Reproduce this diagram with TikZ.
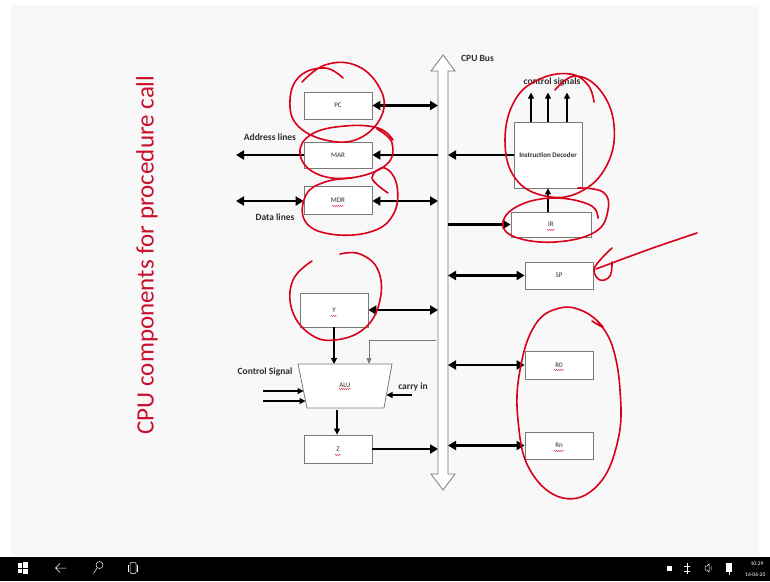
\documentclass[tikz,border=0pt]{standalone}
\usepackage{fontspec}
\setmainfont{Carlito}
\usetikzlibrary{arrows.meta,decorations.pathmorphing}
\definecolor{slidebg}{HTML}{F8F8F8}
\definecolor{boxgray}{HTML}{7A7A7A}
\definecolor{txtgray}{HTML}{2E2E2E}
\definecolor{titlered}{HTML}{C8102E}
\definecolor{penred}{HTML}{D9001B}
\tikzset{
  reg/.style={draw=boxgray, line width=0.8pt, fill=white, inner sep=0pt,
    font=\fontsize{7}{8}\selectfont, text=txtgray},
  lbl/.style={font=\bfseries\fontsize{9.5}{10}\selectfont, text=txtgray, inner sep=0pt},
  arr/.style={line width=2.2pt, -{Triangle[length=8pt,width=9pt]}},
  dbl/.style={line width=2.2pt, {Triangle[length=8pt,width=9pt]}-{Triangle[length=8pt,width=9pt]}},
  sarr/.style={line width=1.1pt, -{Triangle[length=6pt,width=6pt]}},
  thinarr/.style={line width=0.6pt, draw=boxgray, -{Triangle[length=6pt,width=5pt]}},
  pen/.style={draw=penred, line width=1.6pt, line cap=round, line join=round},
  squig/.style={draw=penred, line width=0.4pt, decorate, decoration={snake, amplitude=0.5pt, segment length=2pt}},
  tb/.style={draw=white, line width=0.8pt}
}
\begin{document}
\begin{tikzpicture}[x=1pt,y=-1pt]
\useasboundingbox (0,0) rectangle (770,581);
\fill[white] (0,0) rectangle (770,581);
\fill[slidebg] (11,5) rectangle (759,556);
\fill[black] (0,557) rectangle (770,581);

% title
\node[rotate=90, text=titlered, font=\fontsize{25}{27}\selectfont, inner sep=0pt] (title) at (147,255) {CPU components for procedure call};

% CPU bus
\draw[draw=boxgray, line width=0.8pt, fill=white]
  (438,71) -- (431,71) -- (443,55) -- (455,71) -- (448,71) -- (448,474) -- (455,474)
  -- (443,490) -- (431,474) -- (438,474) -- cycle;
\coordinate (busL) at (438,0);
\coordinate (busR) at (448,0);
\node[lbl, anchor=west] (buslbl) at (461,58) {CPU Bus};

% registers
\node[reg, minimum width=68pt, minimum height=27pt] (pc)  at (338,105.5) {PC};
\node[reg, minimum width=68pt, minimum height=26pt] (mar) at (338,155) {MAR};
\node[reg, minimum width=68pt, minimum height=28pt] (mdr) at (338,200) {MDR};
\node[reg, minimum width=68pt, minimum height=34pt] (yreg) at (334,310) {Y};
\node[reg, minimum width=68pt, minimum height=28pt] (z)  at (338,449) {Z};
\node[reg, minimum width=68pt, minimum height=66pt, font=\bfseries\fontsize{7}{8}\selectfont] (id) at (548,155) {Instruction Decoder};
\node[reg, minimum width=80pt, minimum height=25pt] (ir) at (551,224.5) {IR};
\node[reg, minimum width=68pt, minimum height=27pt] (sp) at (559,275.5) {SP};
\node[reg, minimum width=68pt, minimum height=28pt] (r0) at (559,365) {R0};
\node[reg, minimum width=68pt, minimum height=27pt] (rn) at (559,445.5) {Rn};

% ALU
\draw[draw=boxgray, line width=0.8pt, fill=white] (298,364) -- (392,364) -- (384,408) -- (307,408) -- cycle;
\node[font=\fontsize{7}{8}\selectfont, text=txtgray] (alu) at (345,385) {ALU};
\coordinate (aluyin) at (334,364);
\coordinate (alubin) at (369,364);
\coordinate (aluout) at (337,410);
\coordinate (alucs1) at (303.5,391);
\coordinate (alucs2) at (305.5,401);
\coordinate (alucin) at (386.5,395);

% labels
\node[lbl] (addrlbl) at (270,137) {Address lines};
\node[lbl] (datalbl) at (275,217) {Data lines};
\node[lbl] (ctrllbl) at (552,82) {control signals};
\node[lbl] (cslbl) at (265,372) {Control Signal};
\node[lbl] (cinlbl) at (413,387) {carry in};
\coordinate (addr) at (236,155);
\coordinate (data) at (236,201);
\coordinate (csa) at (263,391);
\coordinate (csb) at (263,401);
\coordinate (cin) at (412,395);
\coordinate (busalu) at (436,340);

% connectors
\draw[dbl] (pc.east) -- (pc.east -| busL);
\draw[arr] (mar.east -| busL) -- (mar.east);
\draw[arr] (mar.west) -- (addr);
\draw[dbl] (data) -- (mdr.west |- data);
\draw[dbl] (mdr.east |- data) -- (data -| busL);
\draw[arr] (id.west) -- (id.west -| busR);
\draw[sarr] ([xshift=-17pt]id.north) -- ++(0,-29);
\draw[sarr] (id.north) -- ++(0,-29);
\draw[sarr] ([xshift=19pt]id.north) -- ++(0,-29);
\draw[arr] (ir.west -| busR) -- (ir.west);
\draw[sarr] (ir.north -| id.south) -- (id.south);
\draw[dbl] (sp.west -| busR) -- (sp.west);
\draw[dbl] (r0.west -| busR) -- (r0.west);
\draw[dbl] (rn.west -| busR) -- (rn.west);
\draw[dbl] (yreg.east) -- (yreg.east -| busL);
\draw[sarr] (yreg.south) -- (aluyin);
\draw[thinarr] (busalu) -- (busalu -| alubin) -- (alubin);
\draw[sarr] (csa) -- (alucs1);
\draw[sarr] (csb) -- (alucs2);
\draw[sarr] (cin) -- (alucin);
\draw[sarr] (aluout) -- (aluout |- z.north);
\draw[arr] (z.east) -- (z.east -| busL);

% spell-check squiggles
\draw[squig] (332,206) -- (344,206);
\draw[squig] (547,230) -- (555,230);
\draw[squig] (331,316) -- (337,316);
\draw[squig] (339,389) -- (351,389);
\draw[squig] (554,370) -- (564,370);
\draw[squig] (554,451) -- (564,451);
\draw[squig] (335,455) -- (341,455);

% red pen annotations
\draw[pen] plot[smooth, tension=0.7] coordinates {(302,82) (325,65) (355,65) (378,85) (383,112) (362,137) (330,141) (298,126) (290,100) (300,76) (325,68) (343,78)};
\draw[pen] plot[smooth, tension=0.7] coordinates {(377,129) (392,143) (386,165) (350,178) (315,173) (300,153) (312,134) (345,126) (378,128) (393,140)};
\draw[pen] plot[smooth, tension=0.7] coordinates {(388,193) (372,178) (385,168) (397,186) (393,215) (370,232) (330,234) (305,221) (306,195) (325,182) (352,178)};
\draw[pen] plot[smooth, tension=0.7] coordinates {(555,90) (575,76) (600,90) (614,125) (607,165) (580,192) (545,196) (515,178) (505,140) (515,100) (540,79) (570,74) (588,85) (594,102)};
\draw[pen] plot[smooth, tension=0.7] coordinates {(578,188) (603,192) (608,210) (595,232) (555,242) (515,237) (503,222) (520,205) (555,198) (590,205) (598,218)};
\draw[pen] plot[smooth, tension=0.6] coordinates {(697,233) (650,249) (596,269)};
\draw[pen] plot[smooth, tension=0.7] coordinates {(612,248) (601,259) (594,270) (600,280) (610,276) (612,262)};
\draw[pen] plot[smooth, tension=0.7] coordinates {(312,261) (293,280) (292,310) (310,334) (335,340) (365,328) (380,300) (378,270) (360,254) (340,254)};
\draw[pen] plot[smooth, tension=0.7] coordinates {(592,321) (603,327) (585,312) (560,308) (535,325) (520,370) (518,420) (530,470) (563,498) (598,485) (618,440) (620,390) (612,345) (598,322)};

% taskbar
\fill[white] (18,563) rectangle (22,567.5);
\fill[white] (23,562) rectangle (28,567.5);
\fill[white] (18,568.5) rectangle (22,573);
\fill[white] (23,568.5) rectangle (28,574);
\draw[tb, line width=0.5pt] (66,568) -- (56,568) (60,563.5) -- (55.5,568) -- (60,572.5);
\draw[tb, line width=0.5pt] (99.5,565) circle (3.5);
\draw[tb, line width=0.5pt] (97.3,567.8) -- (93.5,573.5);
\draw[tb, line width=0.5pt, rounded corners=1pt] (130,562.5) rectangle (136,573.5);
\draw[tb, line width=0.5pt] (128.5,564.5) -- (128.5,571.5) (137.5,564.5) -- (137.5,571.5);
\fill[white] (667,566) rectangle (672,571);
\draw[tb, line width=0.5pt] (687,563) -- (687,574) (684,566) -- (690,566) (684,571) -- (690,571);
\draw[tb, line width=0.5pt] (705,566) -- (707,566) -- (709,564) -- (709,572) -- (707,570) -- (705,570) -- cycle (711,566) -- (711,570);
\fill[white] (726,563) rectangle (732,572);
\draw[tb, line width=0.4pt] (729,572) -- (729,575);
\node[text=white, font=\fontsize{5.5}{6}\selectfont, inner sep=0pt] (clock) at (757,564) {10:29};
\node[text=white, font=\fontsize{5.5}{6}\selectfont, inner sep=0pt, anchor=west] (date) at (745,574.5) {16-06-20};
\end{tikzpicture}
\end{document}
